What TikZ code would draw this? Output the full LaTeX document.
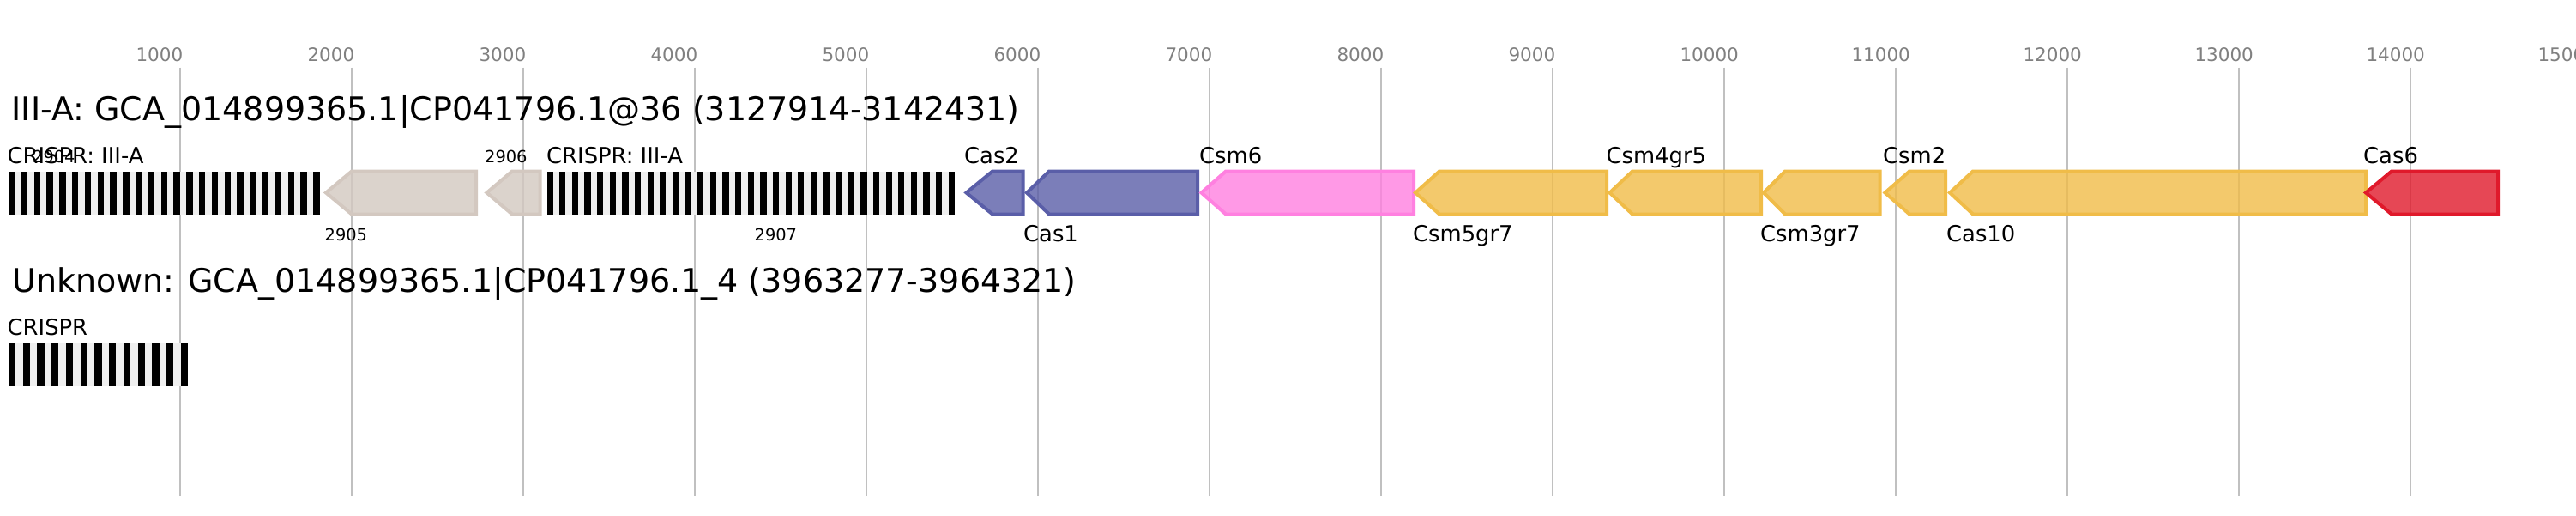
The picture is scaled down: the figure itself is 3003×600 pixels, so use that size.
\documentclass[tikz,border=0pt]{standalone}
\usepackage{fontspec}
\setmainfont{DejaVu Sans}
\definecolor{gridc}{HTML}{C0C0C0}
\definecolor{tickc}{HTML}{808080}
\definecolor{crbg}{HTML}{EFEFEF}
\definecolor{othc}{HTML}{D3C8C0}
\definecolor{casc}{HTML}{5A5EA8}
\definecolor{pinkc}{HTML}{FF80E0}
\definecolor{yelc}{HTML}{F0BC48}
\definecolor{redc}{HTML}{E0192B}
\tikzset{
  gridline/.style={draw=gridc, line width=2},
  ticklabel/.style={anchor=base west, inner sep=0, text=tickc, font=\fontsize{21.5}{24}\selectfont},
  titlelabel/.style={anchor=base west, inner sep=0, font=\fontsize{38}{42}\selectfont},
  glabel/.style={anchor=base west, inner sep=0, font=\fontsize{25.8}{29}\selectfont},
  nlabel/.style={anchor=base west, inner sep=0, font=\fontsize{19.4}{22}\selectfont},
  gene/.style={draw=#1, fill=#1, fill opacity=0.8, line width=4, line join=miter},
  crbox/.style={fill=crbg, draw=none},
  crbar/.style={fill=black, draw=none},
}
\newcommand\genearrow[4]{%
  \draw[gene=#1] (#2,224.5) -- (#3,199.5) -- (#4,199.5) -- (#4,249.5) -- (#3,249.5) -- cycle;}
\newcommand\crarray[6]{% x0, x1, ytop, ybot, n, barwidth
  \fill[crbox] (#1,#3) rectangle (#2,#4);
  \pgfmathsetmacro\crper{(#2-#1-#6)/(#5-1)}
  \foreach \i in {1,...,#5} {
    \fill[crbar] ({#1+(\i-1)*\crper},#3) rectangle ({#1+(\i-1)*\crper+#6},#4);
  }}
\begin{document}
\begin{tikzpicture}[x=1pt,y=-1pt]
\useasboundingbox (0,0) rectangle (3003,600);
\fill[white] (0,0) rectangle (3003,600);
% grid and ticks
\foreach \v in {1,...,14} {
  \draw[gridline] ({9.8+200*\v},78.5) -- ({9.8+200*\v},578);
}
\foreach \v in {1,...,15} {
  \node[ticklabel] (tick\v) at ({9.8+200*\v-51.5},71) {\v000};
}
% titles
\node[titlelabel] (title1) at (13.5,140) {III-A: GCA\_014899365.1|CP041796.1@36 (3127914-3142431)};
\node[titlelabel] (title2) at (14,340) {Unknown: GCA\_014899365.1|CP041796.1\_4 (3963277-3964321)};
% CRISPR arrays
\crarray{10}{372.5}{200}{250}{25}{7.3}
\crarray{637.5}{1113}{200}{250}{33}{7.3}
\crarray{10}{219}{400}{450}{13}{8.3}
% genes
\genearrow{othc}{380}{410}{555}
\genearrow{othc}{567.5}{597}{629.7}
\genearrow{casc}{1126.5}{1157}{1192.5}
\genearrow{casc}{1197}{1223}{1396}
\genearrow{pinkc}{1400.5}{1429}{1648}
\genearrow{yelc}{1650}{1678}{1873}
\genearrow{yelc}{1876.5}{1903}{2053}
\genearrow{yelc}{2056}{2081}{2191.5}
\genearrow{yelc}{2197.5}{2226}{2268}
\genearrow{yelc}{2273}{2300}{2758}
\genearrow{redc}{2758}{2788}{2912}
% labels row 1
\node[glabel] (cr1) at (8.5,190) {CRISPR: III-A};
\node[nlabel] (n2904) at (38,189) {2904};
\node[nlabel] (n2906) at (565,189) {2906};
\node[glabel] (cr2) at (637,190) {CRISPR: III-A};
\node[glabel] (cas2) at (1124,190) {Cas2};
\node[glabel] (csm6) at (1398,190) {Csm6};
\node[glabel] (csm4) at (1872.5,190) {Csm4gr5};
\node[glabel] (csm2) at (2195,190) {Csm2};
\node[glabel] (cas6) at (2755,190) {Cas6};
\node[nlabel] (n2905) at (378.5,280) {2905};
\node[nlabel] (n2907) at (879.5,280) {2907};
\node[glabel] (cas1) at (1193,281) {Cas1};
\node[glabel] (csm5) at (1647,281) {Csm5gr7};
\node[glabel] (csm3) at (2052,281) {Csm3gr7};
\node[glabel] (cas10) at (2269,281) {Cas10};
% row 2
\node[glabel] (cr3) at (8.5,390) {CRISPR};
\end{tikzpicture}
\end{document}
